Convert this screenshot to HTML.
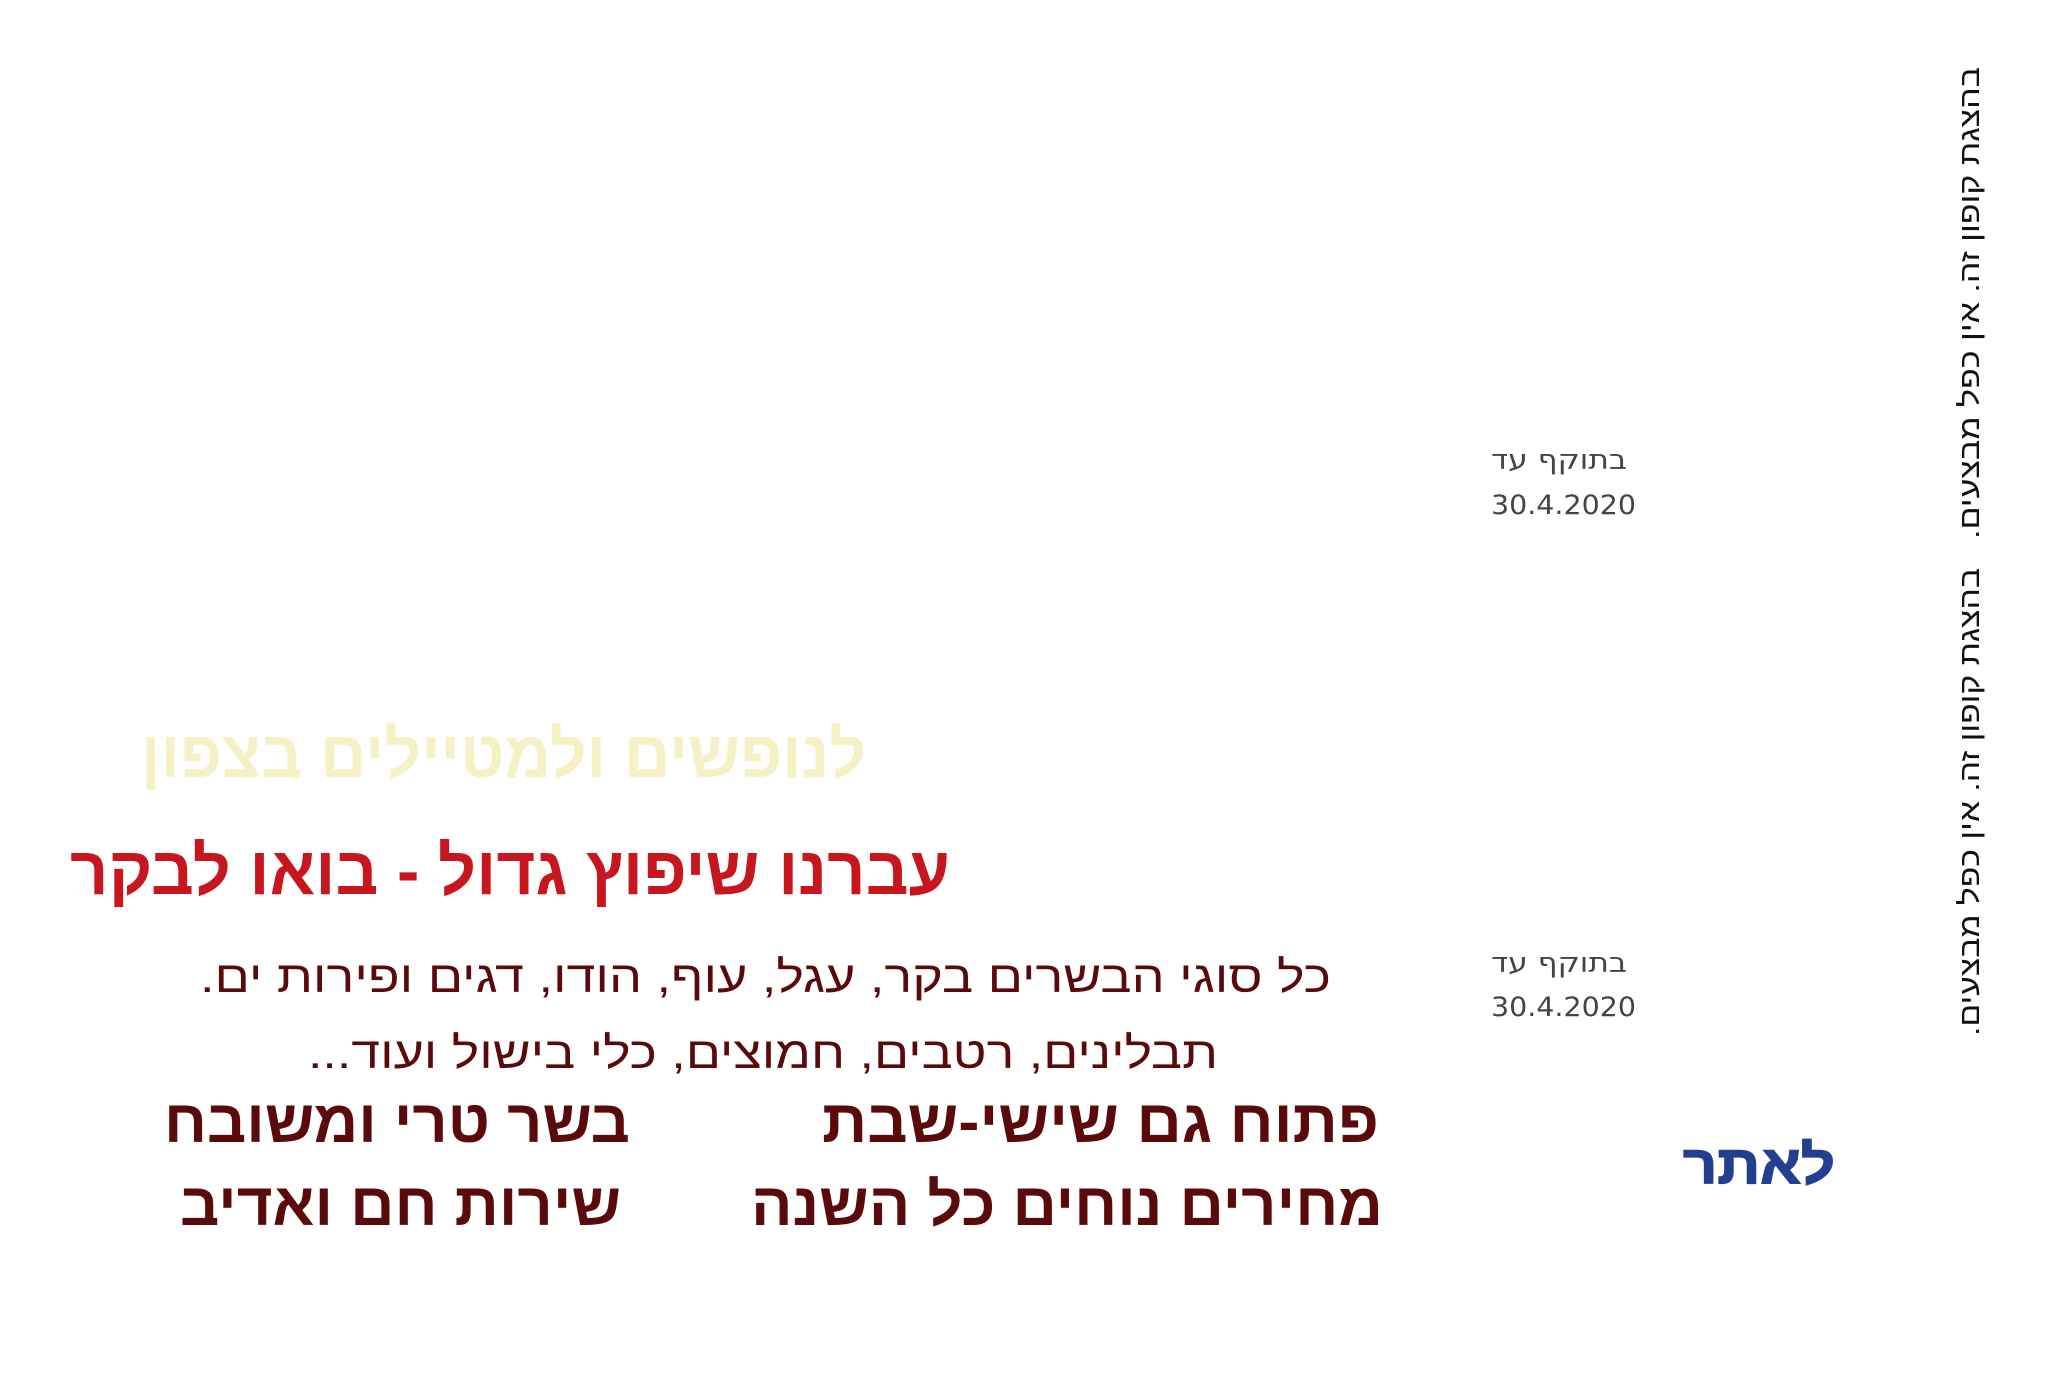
<!DOCTYPE html>
<html><head><meta charset="utf-8"><style>
html,body{margin:0;padding:0;background:#fff;}
svg{display:block;}
</style></head><body>
<svg width="2050" height="1385" viewBox="0 0 2050 1385" xmlns="http://www.w3.org/2000/svg" font-family="Liberation Sans, DejaVu Sans, sans-serif">
<rect width="2050" height="1385" fill="#fff"/>
<text x="866" y="777" direction="rtl" text-anchor="start" font-size="66" font-weight="bold" fill="#f6f1c4" textLength="725" lengthAdjust="spacingAndGlyphs">לנופשים ולמטיילים בצפון</text>
<text x="950" y="894" direction="rtl" text-anchor="start" font-size="68" font-weight="bold" fill="#c8161f" textLength="880" lengthAdjust="spacingAndGlyphs">עברנו שיפוץ גדול - בואו לבקר</text>
<text x="1331" y="992" direction="rtl" text-anchor="start" font-size="44" fill="#5a0a0a" textLength="1131" lengthAdjust="spacingAndGlyphs">כל סוגי הבשרים בקר, עגל, עוף, הודו, דגים ופירות ים.</text>
<text x="1218" y="1068" direction="rtl" text-anchor="start" font-size="44" fill="#5a0a0a" textLength="910" lengthAdjust="spacingAndGlyphs">תבלינים, רטבים, חמוצים, כלי בישול ועוד...</text>
<text x="1379" y="1142" direction="rtl" text-anchor="start" font-size="60" font-weight="bold" fill="#5a0a0a" textLength="557" lengthAdjust="spacingAndGlyphs">פתוח גם שישי-שבת</text>
<text x="630" y="1142" direction="rtl" text-anchor="start" font-size="60" font-weight="bold" fill="#5a0a0a" textLength="466" lengthAdjust="spacingAndGlyphs">בשר טרי ומשובח</text>
<text x="1383" y="1225" direction="rtl" text-anchor="start" font-size="60" font-weight="bold" fill="#5a0a0a" textLength="632" lengthAdjust="spacingAndGlyphs">מחירים נוחים כל השנה</text>
<text x="621" y="1225" direction="rtl" text-anchor="start" font-size="60" font-weight="bold" fill="#5a0a0a" textLength="441" lengthAdjust="spacingAndGlyphs">שירות חם ואדיב</text>
<text x="1855" y="1183" direction="rtl" text-anchor="start" font-size="54" font-weight="bold" fill="#233f8f" stroke="#233f8f" stroke-width="1.5" textLength="152" lengthAdjust="spacingAndGlyphs" transform="translate(-20,0)">לאתר</text>
<g font-size="27" fill="#444" font-family="DejaVu Sans, sans-serif">
<text x="1627" y="469" direction="rtl" text-anchor="start" textLength="136" lengthAdjust="spacingAndGlyphs">בתוקף עד</text>
<text x="1491" y="514" textLength="145" lengthAdjust="spacingAndGlyphs">30.4.2020</text>
<text x="1627" y="972" direction="rtl" text-anchor="start" textLength="136" lengthAdjust="spacingAndGlyphs">בתוקף עד</text>
<text x="1491" y="1016" textLength="145" lengthAdjust="spacingAndGlyphs">30.4.2020</text>
</g>
<g font-size="28" fill="#111">
<text transform="translate(1979,67) rotate(-90)" x="0" y="0" direction="rtl" text-anchor="start" textLength="472" lengthAdjust="spacingAndGlyphs">בהצגת קופון זה. אין כפל מבצעים.</text>
<text transform="translate(1979,568) rotate(-90)" x="0" y="0" direction="rtl" text-anchor="start" textLength="468" lengthAdjust="spacingAndGlyphs">בהצגת קופון זה. אין כפל מבצעים.</text>
</g>
</svg>
</body></html>
